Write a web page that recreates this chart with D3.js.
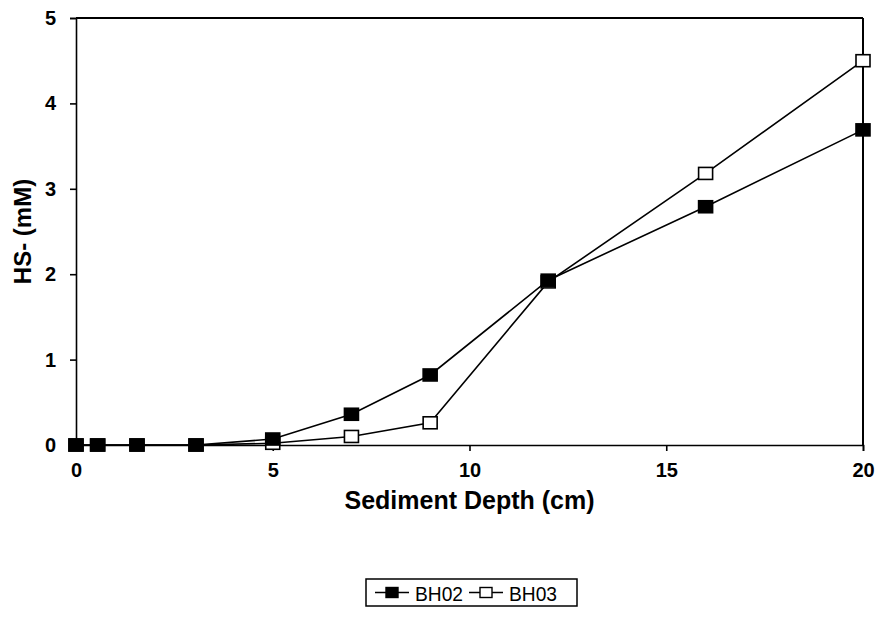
<!DOCTYPE html>
<html>
<head>
<meta charset="utf-8">
<script src="https://cdn.jsdelivr.net/npm/d3@7"></script>
<style>
  html, body { margin: 0; padding: 0; background: #fff; }
  svg { display: block; font-family: Arial, "Liberation Sans", Helvetica, sans-serif; }
</style>
</head>
<body>
<svg id="chart" width="879" height="620"></svg>
<script>
// Sediment depth (cm) and dissolved sulfide HS- (mM) per core
const depths = [0, 0.55, 1.55, 3.05, 5, 7, 9, 12, 16, 20];
const bh02 = [0, 0, 0, 0, 0.07, 0.36, 0.82, 1.93, 2.79, 3.69];
const bh03 = [0, 0, 0, 0, 0.02, 0.1, 0.26, 1.91, 3.18, 4.5];
const xTicks = [0, 5, 10, 15, 20];
const yTicks = [0, 1, 2, 3, 4, 5];
const seriesNames = ["BH02", "BH03"];

const svg = d3.select("#chart");
const margin = { left: 76, right: 16, top: 18, bottom: 175 };
const W = 879, H = 620;

const x = d3.scaleLinear().domain([0, 20]).range([margin.left, W - margin.right]);
const y = d3.scaleLinear().domain([0, 5]).range([H - margin.bottom, margin.top]);

// Frame: top and right edges
svg.append("line")
  .attr("x1", x(0)).attr("x2", x(20)).attr("y1", y(5)).attr("y2", y(5))
  .attr("stroke", "#000").attr("stroke-width", 2);
svg.append("line")
  .attr("x1", x(20)).attr("x2", x(20)).attr("y1", y(5)).attr("y2", y(0))
  .attr("stroke", "#000").attr("stroke-width", 2);

// Axes
const xAxis = svg.append("g")
  .attr("transform", `translate(0,${y(0)})`)
  .call(d3.axisBottom(x).tickValues(xTicks).tickSize(6).tickPadding(12).tickFormat(d3.format("d")));
const yAxis = svg.append("g")
  .attr("transform", `translate(${x(0)},0)`)
  .call(d3.axisLeft(y).tickValues(yTicks).tickSize(6).tickPadding(14).tickFormat(d3.format("d")));

[xAxis, yAxis].forEach(g => {
  g.select(".domain").attr("stroke", "#000").attr("stroke-width", 1.6);
  g.selectAll(".tick line").attr("stroke", "#000").attr("stroke-width", 1.6);
  g.selectAll(".tick text")
    .attr("fill", "#000")
    .style("font-size", "20px")
    .style("font-weight", "bold")
    .style("font-family", "Arial, 'Liberation Sans', sans-serif");
});

// Axis titles
svg.append("text")
  .attr("x", (x(0) + x(20)) / 2).attr("y", 509)
  .attr("text-anchor", "middle")
  .style("font-size", "25px")
  .style("font-weight", "bold")
  .text("Sediment Depth (cm)");

svg.append("text")
  .attr("transform", `translate(31,${(y(0) + y(5)) / 2}) rotate(-90)`)
  .attr("text-anchor", "middle")
  .style("font-size", "24px")
  .style("font-weight", "bold")
  .text("HS- (mM)");

// Series
const line = d3.line().x(d => x(d[0])).y(d => y(d[1]));
const series = [
  { name: seriesNames[1], values: bh03, fill: "#fff" },
  { name: seriesNames[0], values: bh02, fill: "#000" }
];

series.forEach(s => {
  const pts = depths.map((d, i) => [d, s.values[i]]);
  svg.append("path")
    .datum(pts)
    .attr("d", line)
    .attr("fill", "none")
    .attr("stroke", "#000")
    .attr("stroke-width", 1.6);
});

series.forEach(s => {
  const pts = depths.map((d, i) => [d, s.values[i]]);
  svg.append("g").selectAll("rect")
    .data(pts)
    .join("rect")
    .attr("x", d => x(d[0]) - 7)
    .attr("y", d => y(d[1]) - 6)
    .attr("width", 14)
    .attr("height", 12)
    .attr("fill", s.fill)
    .attr("stroke", "#000")
    .attr("stroke-width", 1.6);
});

// Legend
const legend = svg.append("g");
legend.append("rect")
  .attr("x", 366).attr("y", 579).attr("width", 211).attr("height", 27)
  .attr("fill", "#fff").attr("stroke", "#000").attr("stroke-width", 1.5);

const legendItems = [
  { name: seriesNames[0], fill: "#000", x0: 375 },
  { name: seriesNames[1], fill: "#fff", x0: 469 }
];
legendItems.forEach(it => {
  const cy = 592.5;
  legend.append("line")
    .attr("x1", it.x0).attr("x2", it.x0 + 34).attr("y1", cy).attr("y2", cy)
    .attr("stroke", "#000").attr("stroke-width", 1.5);
  legend.append("rect")
    .attr("x", it.x0 + 17 - 6).attr("y", cy - 5).attr("width", 12).attr("height", 10)
    .attr("fill", it.fill).attr("stroke", "#000").attr("stroke-width", 1.4);
  legend.append("text")
    .attr("x", it.x0 + 40).attr("y", cy + 8)
    .attr("textLength", 48)
    .attr("lengthAdjust", "spacingAndGlyphs")
    .style("font-size", "21px")
    .text(it.name);
});
</script>
</body>
</html>
